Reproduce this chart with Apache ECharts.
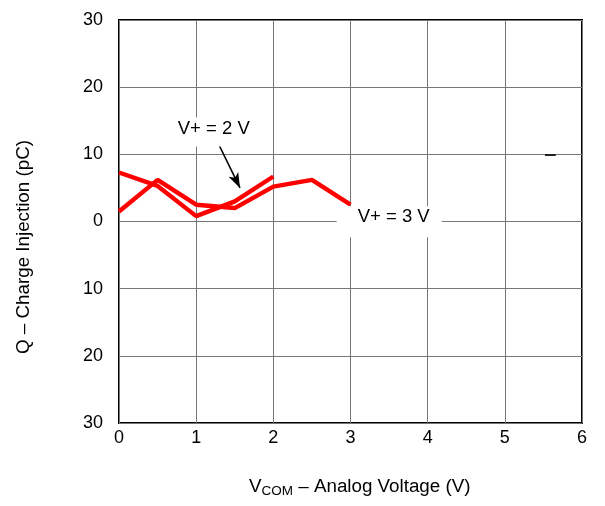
<!DOCTYPE html>
<html>
<head>
<meta charset="utf-8">
<script src="https://cdn.jsdelivr.net/npm/echarts@6/dist/echarts.min.js"></script>
<style>
  html, body { margin: 0; padding: 0; background: #fff; }
  #chart { width: 605px; height: 506px; }
</style>
</head>
<body>
<div id="chart"></div>
<script>
  // V+ = 2 V curve
  var vcom2 = [0, 0.5, 1, 1.5, 2];
  var q2 = [7.3, 5.3, 0.8, 3.0, 6.7];
  // V+ = 3 V curve
  var vcom3 = [0, 0.5, 1, 1.5, 2, 2.5, 3];
  var q3 = [1.5, 6.2, 2.5, 2.0, 5.2, 6.2, 2.5];

  var xTicks = [0, 1, 2, 3, 4, 5, 6];
  var yTicks = [-30, -20, -10, 0, 10, 20, 30];

  var font = 'Liberation Sans, Arial, sans-serif';

  function pairs(xs, ys) {
    return xs.map(function (x, i) { return [x, ys[i]]; });
  }

  var chart = echarts.init(document.getElementById('chart'));
  var option = {
    animation: false,
    grid: {
      left: 119, right: 23, top: 20, bottom: 83,
      show: true, borderColor: '#000', borderWidth: 2, backgroundColor: '#fff'
    },
    xAxis: {
      type: 'value',
      min: xTicks[0], max: xTicks[xTicks.length - 1], interval: 1,
      axisLine: { show: false },
      axisTick: { show: false },
      axisLabel: { fontSize: 18, color: '#000', fontFamily: font, margin: 6 },
      splitLine: { lineStyle: { color: '#777', width: 1 } }
    },
    yAxis: {
      type: 'value',
      min: yTicks[0], max: yTicks[yTicks.length - 1], interval: 10,
      axisLine: { show: false },
      axisTick: { show: false },
      axisLabel: {
        fontSize: 18, color: '#000', fontFamily: font, margin: 16,
        formatter: function (v) { return Math.abs(v); }
      },
      splitLine: { lineStyle: { color: '#777', width: 1 } }
    },
    series: [{
      name: 'V+ = 3 V',
      type: 'line',
      data: pairs(vcom3, q3),
      showSymbol: false,
      lineStyle: { color: '#ff0000', width: 4.4 },
      z: 3
    }, {
      name: 'V+ = 2 V',
      type: 'line',
      data: pairs(vcom2, q2),
      showSymbol: false,
      lineStyle: { color: '#ff0000', width: 4.4 },
      z: 3,
      markLine: {
        silent: true,
        symbol: ['none', 'arrow'],
        symbolSize: [8, 15],
        label: { show: false },
        lineStyle: { color: '#000', width: 1.6, type: 'solid' },
        data: [[{ coord: [1.266, 12.1] }, { coord: [1.568, 5.0] }]]
      }
    }, {
      // short dark tick on the 10 pC gridline
      type: 'line',
      data: [],
      markLine: {
        silent: true,
        symbol: ['none', 'none'],
        label: { show: false },
        lineStyle: { color: '#222', width: 2, type: 'solid' },
        data: [[{ coord: [5.52, 10] }, { coord: [5.66, 10] }]]
      }
    }]
  };
  chart.setOption(option);

  // annotation labels with white boxes, placed from data-space anchors
  var p2 = chart.convertToPixel({ gridIndex: 0 }, [1.228, 13.85]);
  var p3 = chart.convertToPixel({ gridIndex: 0 }, [3.56, 0.64]);

  chart.setOption({
    graphic: [{
      type: 'rect',
      shape: { x: p2[0] - 39, y: p2[1] - 11, width: 78, height: 29 },
      style: { fill: '#fff' },
      z: 10
    }, {
      type: 'text',
      x: p2[0], y: p2[1],
      style: {
        text: 'V+ = 2 V', fill: '#000', font: '18.5px ' + font,
        align: 'center', verticalAlign: 'middle'
      },
      z: 11
    }, {
      type: 'rect',
      shape: { x: p3[0] - 57, y: p3[1] - 11, width: 105, height: 31 },
      style: { fill: '#fff' },
      z: 10
    }, {
      type: 'text',
      x: p3[0], y: p3[1],
      style: {
        text: 'V+ = 3 V', fill: '#000', font: '18.5px ' + font,
        align: 'center', verticalAlign: 'middle'
      },
      z: 11
    }, {
      type: 'text',
      x: 24, y: 247,
      rotation: Math.PI / 2,
      style: {
        text: 'Q \u2013 Charge Injection (pC)', fill: '#000', font: '18.8px ' + font,
        align: 'center', verticalAlign: 'middle'
      }
    }, {
      type: 'text',
      x: 249, y: 487,
      style: {
        text: '{v|V}{s|COM}{n| \u2013 Analog Voltage (V)}',
        verticalAlign: 'middle',
        rich: {
          v: { fontSize: 18.8, fontFamily: font, fill: '#000' },
          s: { fontSize: 13.5, fontFamily: font, fill: '#000', padding: [8, 0, 0, 0] },
          n: { fontSize: 18.8, fontFamily: font, fill: '#000' }
        }
      }
    }]
  });
</script>
</body>
</html>
